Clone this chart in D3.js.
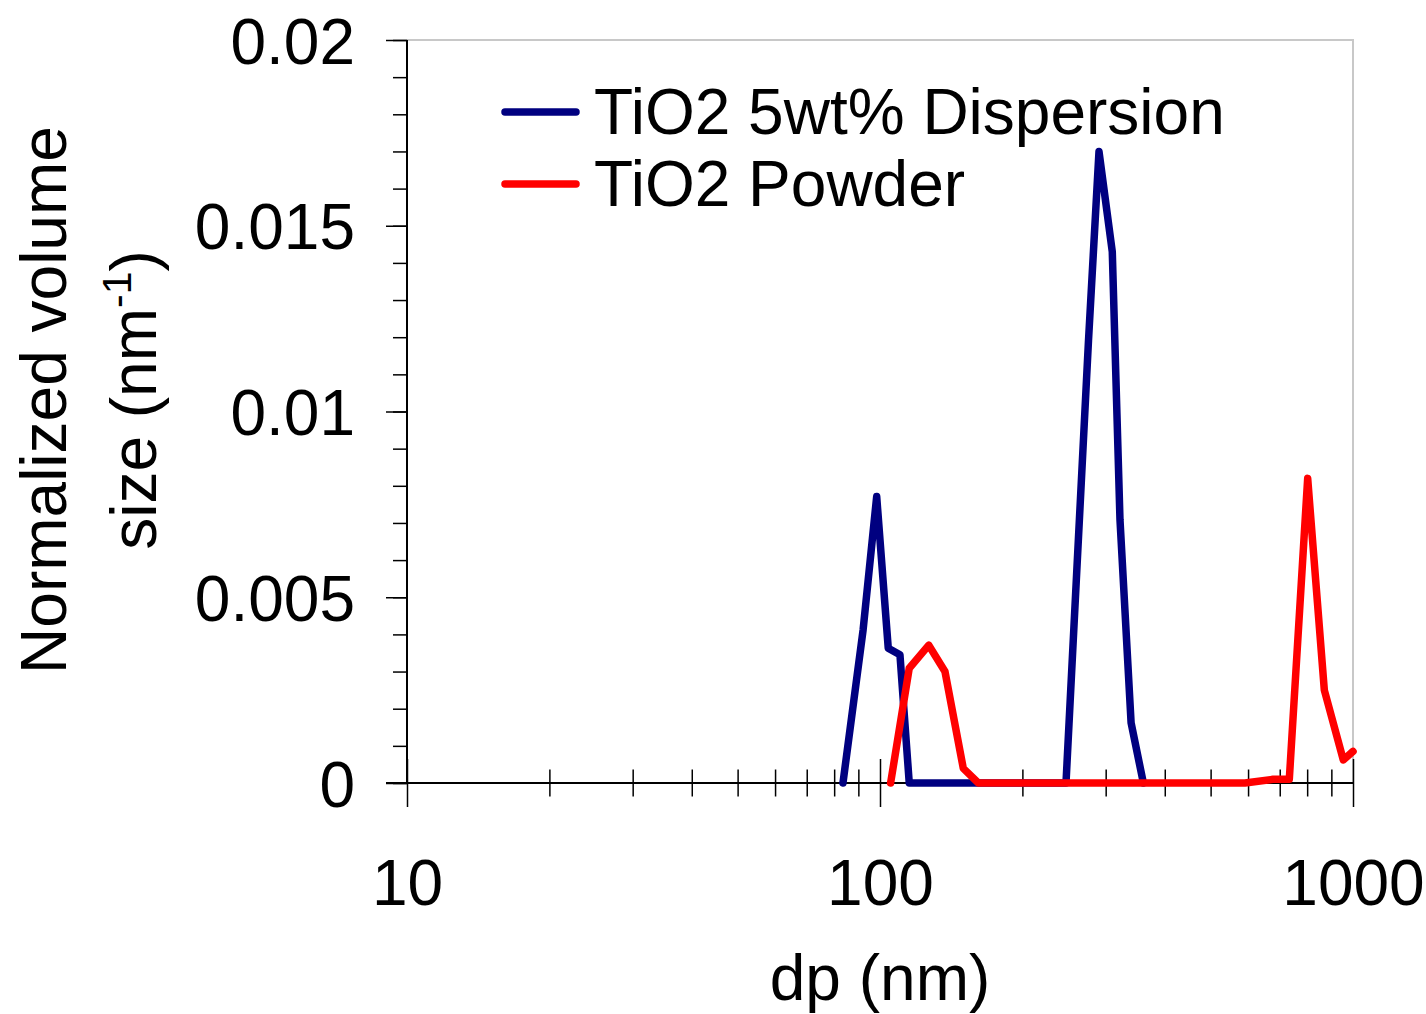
<!DOCTYPE html>
<html>
<head>
<meta charset="utf-8">
<script src="https://cdn.jsdelivr.net/npm/d3@7/dist/d3.min.js"></script>
<style>
  html, body { margin: 0; padding: 0; background: #fff; }
  svg { display: block; }
  text { font-family: "Liberation Sans", Arial, sans-serif; fill: #000; }
</style>
</head>
<body>
<svg id="chart" width="1426" height="1014"></svg>
<script>
// Particle size distributions (dp in nm, normalized volume size in nm^-1)
const dispersionDp  = [83.5, 92.1, 98.4, 104.1, 110.2, 115.3, 247.3, 275.9, 290.4, 309.8, 321.6, 339.5, 360.4];
const dispersionVal = [0, 0.00412, 0.00771, 0.00363, 0.00345, 0, 0, 0.0119, 0.0170, 0.0143, 0.0071, 0.00162, 0];

const powderDp  = [105.3, 115.3, 126.8, 137.2, 150.0, 161.4, 591.0, 677.4, 733.4, 802.0, 869.7, 953.9, 1000];
const powderVal = [0, 0.00309, 0.00371, 0.0030, 0.000395, 0, 0, 0.0001, 0.0001, 0.0082, 0.0025, 0.00062, 0.00085];

const seriesNames  = ["TiO2 5wt% Dispersion", "TiO2 Powder"];
const seriesColors = ["#000080", "#ff0000"];

const xMajorTicks = [10, 100, 1000];
const xMinorTicks = [20, 30, 40, 50, 60, 70, 80, 90, 200, 300, 400, 500, 600, 700, 800, 900];
const yMajorTicks = [0, 0.005, 0.01, 0.015, 0.02];
const yMinorTicks = d3.range(0, 21).map(i => i / 1000);

const svg = d3.select("#chart");
const plot = { left: 407, right: 1353, top: 40, bottom: 783 };
const fontSize = 64;

const x = d3.scaleLog().domain([10, 1000]).range([plot.left, plot.right]);
const y = d3.scaleLinear().domain([0, 0.02]).range([plot.bottom, plot.top]);

// Plot frame: light top/right border
svg.append("path")
  .attr("d", `M${plot.left},${plot.top}H${plot.right}V${plot.bottom}`)
  .attr("fill", "none")
  .attr("stroke", "#c8c8c8")
  .attr("stroke-width", 2);

// Y axis: minor and major ticks pointing outward
const yMinor = svg.append("g")
  .attr("transform", `translate(${plot.left},0)`)
  .call(d3.axisLeft(y).tickValues(yMinorTicks).tickSize(14).tickFormat(""));
yMinor.select(".domain").remove();

const yMajor = svg.append("g")
  .attr("transform", `translate(${plot.left},0)`)
  .call(d3.axisLeft(y).tickValues(yMajorTicks).tickSize(21).tickPadding(31)
    .tickFormat(d => d === 0 ? "0" : String(+d.toFixed(3))));
yMajor.select(".domain").remove();
yMajor.selectAll("text")
  .attr("font-size", fontSize)
  .attr("font-family", "Liberation Sans, Arial, sans-serif")
  .attr("dy", "0.36em");

// X axis: ticks crossing the axis line
const xMinor = svg.append("g")
  .attr("transform", `translate(0,${plot.bottom - 13.5})`)
  .call(d3.axisBottom(x).tickValues(xMinorTicks).tickSize(27).tickFormat(""));
xMinor.select(".domain").remove();

const xMajor = svg.append("g")
  .attr("transform", `translate(0,${plot.bottom - 24})`)
  .call(d3.axisBottom(x).tickValues(xMajorTicks).tickSize(48).tickPadding(53)
    .tickFormat(d3.format("d")));
xMajor.select(".domain").remove();
xMajor.selectAll("text")
  .attr("font-size", fontSize)
  .attr("font-family", "Liberation Sans, Arial, sans-serif");
svg.selectAll(".tick line").attr("stroke", "#000").attr("stroke-width", 1.5);

// Axis lines
svg.append("line")
  .attr("x1", plot.left).attr("x2", plot.left)
  .attr("y1", plot.top).attr("y2", plot.bottom)
  .attr("stroke", "#000").attr("stroke-width", 2);
svg.append("line")
  .attr("x1", plot.left - 21).attr("x2", plot.right)
  .attr("y1", plot.bottom).attr("y2", plot.bottom)
  .attr("stroke", "#000").attr("stroke-width", 2);

// Series lines
const line = d3.line().x(d => x(d[0])).y(d => y(d[1]));
const series = [
  d3.zip(dispersionDp, dispersionVal),
  d3.zip(powderDp, powderVal)
];
const clipId = "plotClip";
svg.append("clipPath").attr("id", clipId)
  .append("rect")
  .attr("x", plot.left).attr("y", plot.top - 10)
  .attr("width", plot.right - plot.left + 4).attr("height", plot.bottom - plot.top + 14);

svg.append("g").attr("clip-path", `url(#${clipId})`)
  .selectAll("path.series")
  .data(series)
  .join("path")
  .attr("class", "series")
  .attr("d", line)
  .attr("fill", "none")
  .attr("stroke", (d, i) => seriesColors[i])
  .attr("stroke-width", 7.5)
  .attr("stroke-linejoin", "round")
  .attr("stroke-linecap", "round");

// Legend
const legend = svg.append("g");
const legendRows = legend.selectAll("g")
  .data(seriesNames)
  .join("g")
  .attr("transform", (d, i) => `translate(0,${112 + i * 72})`);
legendRows.append("line")
  .attr("x1", 505).attr("x2", 576)
  .attr("y1", 0).attr("y2", 0)
  .attr("stroke", (d, i) => seriesColors[i])
  .attr("stroke-width", 7.5)
  .attr("stroke-linecap", "round");
legendRows.append("text")
  .attr("x", 594)
  .attr("y", 22)
  .attr("font-size", fontSize)
  .text(d => d);

// Axis titles
svg.append("text")
  .attr("x", 880)
  .attr("y", 1000)
  .attr("text-anchor", "middle")
  .attr("font-size", fontSize)
  .text("dp (nm)");

const yTitle = svg.append("g")
  .attr("transform", "translate(66,400) rotate(-90)");
yTitle.append("text")
  .attr("x", 0).attr("y", 0)
  .attr("text-anchor", "middle")
  .attr("font-size", fontSize)
  .text("Normalized volume");
const yTitle2 = yTitle.append("text")
  .attr("x", 0).attr("y", 90)
  .attr("text-anchor", "middle")
  .attr("font-size", fontSize);
yTitle2.append("tspan").text("size (nm");
yTitle2.append("tspan").attr("font-size", 41).attr("dy", -25).text("-1");
yTitle2.append("tspan").attr("dy", 25).text(")");
</script>
</body>
</html>
